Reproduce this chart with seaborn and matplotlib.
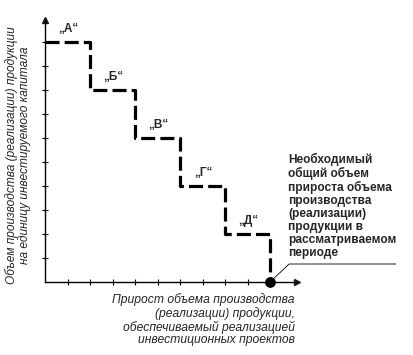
import matplotlib
matplotlib.use("Agg")
import matplotlib.pyplot as plt
import seaborn as sns
import pandas as pd

# Data
boundaries = [0, 2, 4, 6, 8, 10]
levels = [10, 8, 6, 4, 2]
labels = ["„А“", "„Б“", "„В“", "„Г“", "„Д“"]
ylabel = "Объем производства (реализации) продукции\nна единицу инвестируемого капитала"
xlabel = ("Прирост объема производства\n(реализации) продукции,\n"
          "обеспечиваемый реализацией\nинвестиционных проектов")
note = ("Необходимый\nобщий объем\nприроста объема\nпроизводства\n"
        "(реализации)\nпродукции в\nрассматриваемом\nпериоде")

sns.set_theme(style="white")
plt.rcParams['font.family'] = ['Liberation Sans', 'DejaVu Sans']

# step path
xs, ys = [], []
for i, lv in enumerate(levels):
    xs += [boundaries[i], boundaries[i + 1]]
    ys += [lv, lv]
xs.append(boundaries[-1])
ys.append(0)
df = pd.DataFrame({"x": xs, "y": ys})

W, H = 414, 355
fig = plt.figure(figsize=(W / 100, H / 100), dpi=100)
ax = fig.add_axes([45 / W, (H - 282) / H, 252 / W, 261.6 / H])
ax.set_xlim(0, 11.2)
ax.set_ylim(0, 10.9)

sns.lineplot(data=df, x="x", y="y", sort=False, estimator=None, ax=ax,
             color="black", linewidth=2.3, clip_on=False)
ax.lines[0].set_linestyle((0, (4.4, 1.6)))

ax.scatter([boundaries[-1]], [0], s=45, color="black", zorder=5, clip_on=False)

for i, lab in enumerate(labels):
    xm = (boundaries[i] + boundaries[i + 1]) / 2
    ax.text(xm + 0.05, levels[i] + 0.3, lab, ha="center", va="bottom",
            fontsize=8.5, fontweight="bold")

# axes styling
for s in ["top", "right"]:
    ax.spines[s].set_visible(False)
for s in ["left", "bottom"]:
    ax.spines[s].set_color("black")
    ax.spines[s].set_linewidth(1.0)
ax.set_xticks(range(1, 11))
ax.set_yticks(range(1, 11))
ax.set_xticklabels([])
ax.set_yticklabels([])
ax.tick_params(axis="both", direction="inout", length=5, width=0.8, colors="black",
               bottom=True, left=True)
ax.set_xlabel("")
ax.set_ylabel("")

# arrows
ax.plot(1, 0, ">k", ms=4, transform=ax.transAxes, clip_on=False)
ax.plot(0, 1, "^k", ms=4, transform=ax.transAxes, clip_on=False)

# annotation leader line
ax.plot([10, 10.85, 15.6], [0, 0.75, 0.75], color="black", lw=0.6, clip_on=False)
fig.text(288 / W, 1 - 153 / H, note, ha="left", va="top", fontsize=8.6, fontweight="bold",
         linespacing=1.1)

fig.text(18 / W, 1 - 155 / H, ylabel, rotation=90, ha="center", va="center",
         fontsize=8.6, style="italic", linespacing=1.0)
fig.text(295 / W, 1 - 293 / H, xlabel, ha="right", va="top",
         fontsize=8.7, style="italic", linespacing=1.08)

fig.savefig("out.png", dpi=100, facecolor="white")
